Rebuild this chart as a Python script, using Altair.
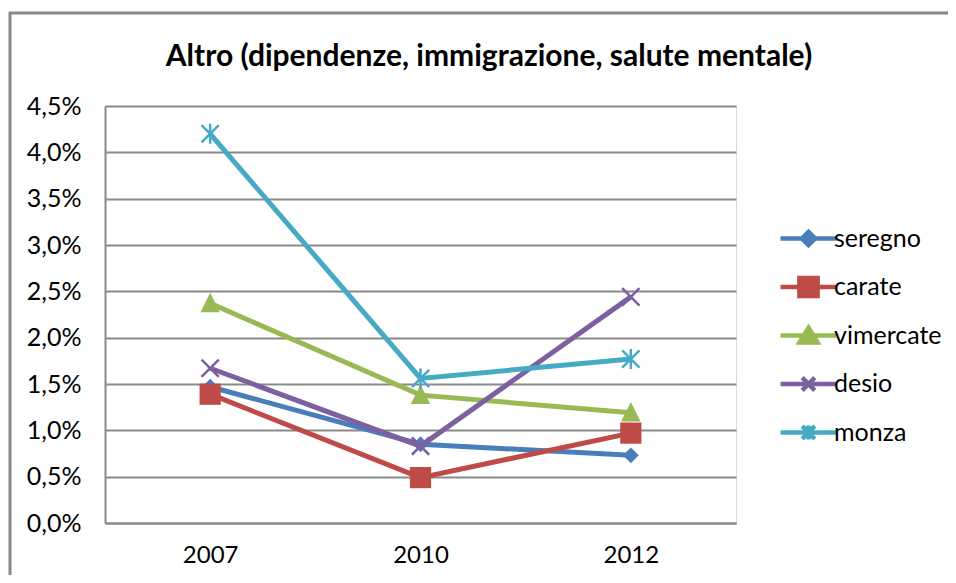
import altair as alt
import pandas as pd

# ---------------- data ----------------
years = ["2007", "2010", "2012"]
series = ["seregno", "carate", "vimercate", "desio", "monza"]
seregno = [0.0147, 0.0085, 0.0073]
carate = [0.0139, 0.0049, 0.0097]
vimercate = [0.0237, 0.0138, 0.0119]
desio = [0.0167, 0.0083, 0.0244]
monza = [0.0420, 0.0156, 0.0177]
y_ticks = [0.0, 0.005, 0.01, 0.015, 0.02, 0.025, 0.03, 0.035, 0.04, 0.045]
title_text = ["Altro (dipendenze, immigrazione, salute mentale)"]

values = {"seregno": seregno, "carate": carate, "vimercate": vimercate,
          "desio": desio, "monza": monza}
rows = []
for s in series:
    for yr, v in zip(years, values[s]):
        rows.append({"series": s, "year": yr, "value": v})
df = pd.DataFrame(rows)

# ---------------- style ----------------
colors = ["#4A7EBB", "#BE4B48", "#98B954", "#7D60A0", "#46AAC5"]
FONT = "Lato"
GRID = "#898989"

marker_specs = {
    "seregno": dict(shape="diamond", size=250, filled=True),
    "carate": dict(shape="square", size=450, filled=True),
    "vimercate": dict(shape="M0,-1.1L1,0.9L-1,0.9Z", size=380, filled=True),
    "desio": dict(shape="M-1,-1L1,1M-1,1L1,-1", size=300, filled=False, strokeWidth=2.5),
    "monza": dict(shape="M-1,-1L1,1M-1,1L1,-1M0,-1.15L0,1.15", size=300, filled=False, strokeWidth=2.5),
}
legend_paths = [
    "M-4,0L4,0M0,-0.95L0.95,0L0,0.95L-0.95,0Z",
    "M-4,0L4,0M-1.3,-1.3L1.3,-1.3L1.3,1.3L-1.3,1.3Z",
    "M-4,0L4,0M0,-1.1L1.3,1L-1.3,1Z",
    "M-4,0L4,0M-0.9,-0.9L0.9,0.9M-0.9,0.9L0.9,-0.9",
    "M-4,0L4,0M-0.9,-0.9L0.9,0.9M-0.9,0.9L0.9,-0.9M0,-1L0,1",
]

x_enc = alt.X("year:O", scale=alt.Scale(type="point", padding=0.5, domain=years),
              axis=alt.Axis(title=None, labelAngle=0, ticks=False, grid=False,
                            domainColor=GRID, domainWidth=2, labelPadding=20,
                            labelFont=FONT, labelFontSize=24, labelColor="#000000"))
y_enc = alt.Y("value:Q", scale=alt.Scale(domain=[0, 0.045], nice=False, zero=True),
              axis=alt.Axis(title=None, values=y_ticks, ticks=False, grid=True,
                            gridColor=GRID, gridWidth=2, domainColor=GRID, domainWidth=2,
                            labelExpr="replace(format(datum.value, '.1%'), '.', ',')",
                            labelPadding=24, labelFont=FONT, labelFontSize=25,
                            labelColor="#000000"))

base = alt.Chart(df)
one = alt.Chart(pd.DataFrame({"t": title_text}))

border_top = one.mark_rule(stroke="#888888", strokeWidth=3).encode(
    x=alt.value(-96), x2=alt.value(900), y=alt.value(-93))
border_left = one.mark_rule(stroke="#888888", strokeWidth=3).encode(
    x=alt.value(-95), y=alt.value(-94), y2=alt.value(600))
title = one.mark_text(font=FONT, fontSize=30, fontWeight="bold", color="#000000",
                      align="center", baseline="alphabetic").encode(
    text="t:N", x=alt.value(384), y=alt.value(-40))

layers = [border_top, border_left, title]
for s, c in zip(series, colors):
    sub = base.transform_filter(alt.datum.series == s)
    layers.append(sub.mark_line(color=c, strokeWidth=5).encode(x=x_enc, y=y_enc))
    spec = dict(marker_specs[s])
    if spec.get("filled"):
        pt = sub.mark_point(color=c, opacity=1, strokeWidth=0, **spec)
    else:
        pt = sub.mark_point(color=c, opacity=1, **spec)
    layers.append(pt.encode(x=x_enc, y=y_enc))

leg = alt.Legend(title=None, orient="none", legendX=691, legendY=120,
                 symbolSize=196, symbolStrokeWidth=4.5, symbolOpacity=1,
                 labelFont=FONT, labelFontSize=25, labelColor="#000000",
                 labelOffset=13, rowPadding=11.5, padding=0, gridAlign="all")
legend_layer = base.mark_point(filled=True, clip=True, strokeWidth=4.5, opacity=1).encode(
    x=x_enc,
    y=alt.Y(datum=-1),
    fill=alt.Fill("series:N", scale=alt.Scale(domain=series, range=colors), legend=leg),
    stroke=alt.Stroke("series:N", scale=alt.Scale(domain=series, range=colors), legend=leg),
    shape=alt.Shape("series:N", scale=alt.Scale(domain=series, range=legend_paths), legend=leg),
)
layers.append(legend_layer)

chart = alt.layer(*layers).properties(
    width=631, height=417,
    autosize=alt.AutoSizeParams(type="none"),
    padding={"left": 97, "top": 98, "right": 212, "bottom": 52},
).configure_view(stroke=None).configure(background="white")

chart.save("out.html", embed_options={"renderer": "svg", "actions": False})
